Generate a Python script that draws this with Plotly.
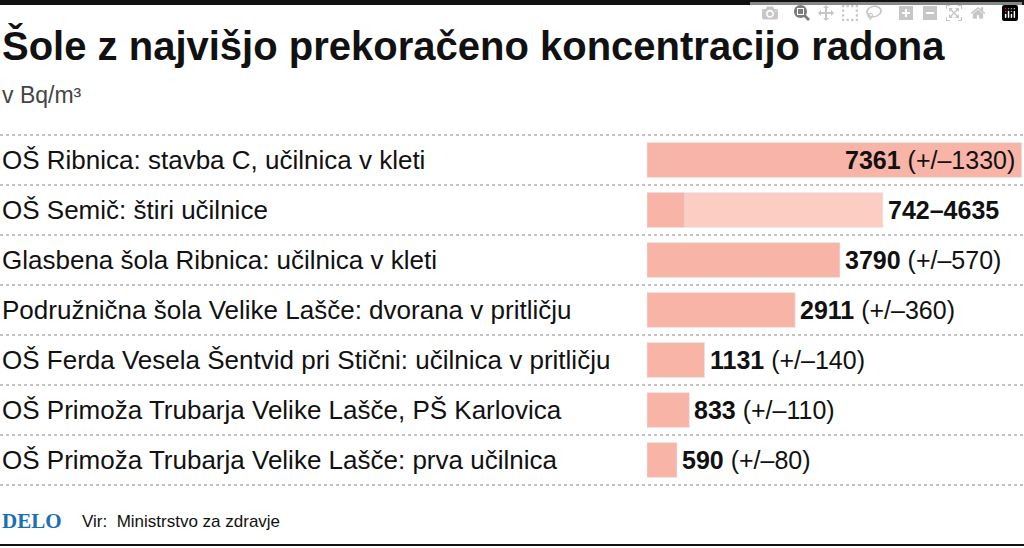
import plotly.graph_objects as go

labels = ["OŠ Ribnica: stavba C, učilnica v kleti",
          "OŠ Semič: štiri učilnice",
          "Glasbena šola Ribnica: učilnica v kleti",
          "Podružnična šola Velike Lašče: dvorana v pritličju",
          "OŠ Ferda Vesela Šentvid pri Stični: učilnica v pritličju",
          "OŠ Primoža Trubarja Velike Lašče, PŠ Karlovica",
          "OŠ Primoža Trubarja Velike Lašče: prva učilnica"]
values = [7361, 742, 3790, 2911, 1131, 833, 590]
range_max = [None, 4635, None, None, None, None, None]
errors = [1330, None, 570, 360, 140, 110, 80]

F = "Liberation Sans Narrow, Arial Narrow, sans-serif"
ypos = list(range(len(labels)))
fig = go.Figure()
ext = [r if r else 0 for r in range_max]
fig.add_bar(x=ext, y=ypos, orientation="h", marker_color="#fbcdc3", width=0.7, hoverinfo="skip")
fig.add_bar(x=values, y=ypos, orientation="h", marker_color="#f9b4a8", width=0.7, hoverinfo="skip")

ann = []
for i, lab in enumerate(labels):
    ann.append(dict(x=0, xref="paper", y=i, yref="y", text=lab, showarrow=False,
                    xanchor="left", font=dict(family=F, size=26, color="#111")))
    if range_max[i]:
        txt = f"<b>{values[i]}–{range_max[i]}</b>"
        xv, xa, sh = range_max[i], "left", 3
    else:
        txt = f"<b>{values[i]}</b> (+/–{errors[i]})"
        if i == 0:
            xv, xa, sh = values[i], "right", -5
        else:
            xv, xa, sh = values[i], "left", 3
    ann.append(dict(x=xv, y=i, xref="x", yref="y", text=txt, showarrow=False, xanchor=xa,
                    xshift=sh, font=dict(family=F, size=25, color="#111")))

ann += [
    dict(x=0, y=1 - 46/548, xref="paper", yref="paper", text="<b>Šole z najvišjo prekoračeno koncentracijo radona</b>",
         showarrow=False, xanchor="left", yanchor="middle", font=dict(family=F, size=40, color="#111")),
    dict(x=0, y=1 - 95/548, xref="paper", yref="paper", text="v Bq/m³",
         showarrow=False, xanchor="left", yanchor="middle", font=dict(family=F, size=23, color="#444")),
    dict(x=0, y=1 - 521/548, xref="paper", yref="paper", text="<b>DELO</b>",
         showarrow=False, xanchor="left", yanchor="middle", font=dict(family="Liberation Serif, serif", size=21, color="#1a6fb5")),
    dict(x=80/1024, y=1 - 521/548, xref="paper", yref="paper", text="Vir:  Ministrstvo za zdravje",
         showarrow=False, xanchor="left", yanchor="middle", font=dict(family=F, size=17, color="#111")),
]

shapes = [dict(type="rect", xref="paper", yref="paper", x0=0, x1=1, y0=1 - 5/548, y1=1,
               fillcolor="#111", line_width=0),
          dict(type="line", xref="paper", yref="paper", x0=0, x1=1, y0=1 - 545/548, y1=1 - 545/548,
               line=dict(color="#111", width=2))]
for k in range(8):
    yy = 1 - (135 + 50*k)/548
    shapes.append(dict(type="line", xref="paper", yref="paper", x0=0, x1=1, y0=yy, y1=yy,
                       line=dict(color="#888", width=1, dash="dot")))

fig.update_layout(
    width=1024, height=548, margin=dict(l=0, r=0, t=0, b=0),
    paper_bgcolor="white", plot_bgcolor="white", barmode="overlay", showlegend=False,
    xaxis=dict(domain=[647/1024, 1], range=[0, 7406], visible=False, fixedrange=True),
    yaxis=dict(domain=[1 - 485/548, 1 - 135/548], range=[6.5, -0.5], visible=False),
    annotations=ann, shapes=shapes,
)
fig.write_html("out.html", post_script="document.body.style.margin='0';document.body.style.overflow='hidden';")
